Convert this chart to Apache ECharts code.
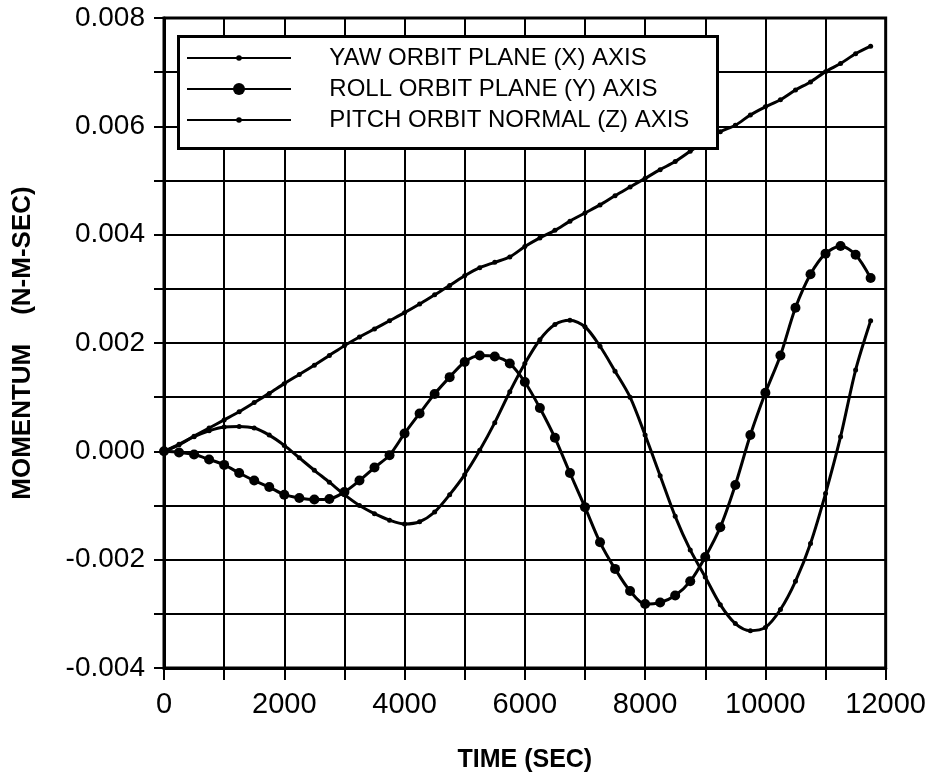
<!DOCTYPE html>
<html>
<head>
<meta charset="utf-8">
<script src="https://cdn.jsdelivr.net/npm/echarts@6/dist/echarts.min.js"></script>
<style>
html,body{margin:0;padding:0;background:#fff;}
#chart{width:929px;height:778px;}
</style>
</head>
<body>
<div id="chart"></div>
<script>
// Time in seconds
const times = [0,250,500,750,1000,1250,1500,1750,2000,2250,2500,2750,3000,3250,3500,3750,4000,4250,4500,4750,5000,5250,5500,5750,6000,6250,6500,6750,7000,7250,7500,7750,8000,8250,8500,8750,9000,9250,9500,9750,10000,10250,10500,10750,11000,11250,11500,11750];

// YAW ORBIT PLANE (X) AXIS (N-M-SEC)
const yawValues = [0,0.00012,0.00027,0.00038,0.00045,0.00046,0.00043,0.0003,0.00011,-0.00012,-0.00035,-0.00057,-0.0008,-0.001,-0.00115,-0.00127,-0.00134,-0.0013,-0.00112,-0.0008,-0.00043,0.00002,0.00053,0.0011,0.00162,0.00206,0.00234,0.00242,0.0023,0.00194,0.00148,0.001,0.0003,-0.00045,-0.0012,-0.00182,-0.00232,-0.00283,-0.00318,-0.00331,-0.00325,-0.00292,-0.0024,-0.0017,-0.00078,0.00027,0.0015,0.00241];

// ROLL ORBIT PLANE (Y) AXIS
const rollValues = [0,-0.00002,-0.00006,-0.00015,-0.00025,-0.0004,-0.00054,-0.00066,-0.0008,-0.00086,-0.00089,-0.00088,-0.00075,-0.00054,-0.0003,-0.00007,0.00033,0.0007,0.00106,0.00137,0.00165,0.00177,0.00175,0.00162,0.00128,0.0008,0.00025,-0.0004,-0.00103,-0.00168,-0.00217,-0.00258,-0.00282,-0.00279,-0.00266,-0.0024,-0.00195,-0.0014,-0.00062,0.0003,0.00108,0.00177,0.00265,0.00327,0.00365,0.00379,0.00363,0.0032];

// PITCH ORBIT NORMAL (Z) AXIS
const pitchValues = [0,0.00013,0.00028,0.00043,0.00058,0.00073,0.0009,0.00107,0.00125,0.00142,0.00159,0.00177,0.00195,0.00211,0.00226,0.00241,0.00256,0.00272,0.00289,0.00306,0.00324,0.00339,0.00349,0.00359,0.00378,0.00394,0.00408,0.00425,0.0044,0.00455,0.00472,0.00488,0.00504,0.0052,0.00535,0.00554,0.00573,0.0059,0.00602,0.00621,0.00636,0.00649,0.00667,0.00682,0.00701,0.00716,0.00734,0.00748];

const seriesNames = ['YAW ORBIT PLANE (X) AXIS','ROLL ORBIT PLANE (Y) AXIS','PITCH ORBIT NORMAL (Z) AXIS'];
const xTickLabels = ['0','2000','4000','6000','8000','10000','12000'];
const yTickLabels = ['-0.004','-0.002','0.000','0.002','0.004','0.006','0.008'];
const xTitle = 'TIME (SEC)';
const yTitle = 'MOMENTUM    (N-M-SEC)';

const FONT = '"Liberation Sans", Arial, Helvetica, sans-serif';

function pairs(vals){ return times.map((t,i)=>[t, vals[i]]); }

const chart = echarts.init(document.getElementById('chart'), null, {renderer:'canvas'});

function legendOf(name, top, h){
  return {
    show:true, orient:'vertical', left:186, top:top, padding:0, z:10,
    itemWidth:104, itemHeight:h, itemGap:0,
    data:[name],
    formatter: n => '     ' + n,
    textStyle:{fontFamily:FONT, fontSize:24, color:'#000', lineHeight:24},
    inactiveColor:'#000'
  };
}

const option = {
  backgroundColor:'#fff',
  animation:false,
  grid:{left:164, right:42, top:18, bottom:107, show:true, borderColor:'#000', borderWidth:3, backgroundColor:'transparent'},
  graphic:[{
    type:'rect', left:177, top:35, z:9,
    shape:{width:539, height:112},
    style:{fill:'#fff', stroke:'#000', lineWidth:3}
  }],
  legend:[
    legendOf(seriesNames[0], 46, 7),
    legendOf(seriesNames[1], 77, 15),
    legendOf(seriesNames[2], 108, 7)
  ],
  xAxis:{
    type:'value', min:0, max:12000, interval:1000,
    name:xTitle, nameLocation:'middle', nameGap:80,
    nameTextStyle:{fontFamily:FONT, fontSize:25, fontWeight:'bold', color:'#000'},
    axisLine:{show:true, onZero:false, lineStyle:{color:'#000', width:3}},
    axisTick:{show:true, length:12, lineStyle:{color:'#000', width:2}},
    axisLabel:{
      margin:22, fontFamily:FONT, fontSize:29, color:'#000',
      formatter: v => { const s = String(Math.round(v)); return xTickLabels.indexOf(s) >= 0 ? s : ''; }
    },
    splitLine:{show:true, lineStyle:{color:'#000', width:2}}
  },
  yAxis:{
    type:'value', min:-0.004, max:0.008, interval:0.001,
    name:yTitle, nameLocation:'middle', nameGap:128, nameRotate:90,
    nameTextStyle:{fontFamily:FONT, fontSize:26, fontWeight:'bold', color:'#000'},
    axisLine:{show:true, onZero:false, lineStyle:{color:'#000', width:3}},
    axisTick:{show:true, length:10, lineStyle:{color:'#000', width:2}},
    axisLabel:{
      margin:19, fontFamily:FONT, fontSize:28, color:'#000',
      formatter: v => { const k = Math.round(v*1000); const s = (k<0?'-':'') + (Math.abs(k)/1000).toFixed(3); return yTickLabels.indexOf(s) >= 0 ? s : ''; }
    },
    splitLine:{show:true, lineStyle:{color:'#000', width:2}}
  },
  series:[
    {name:seriesNames[0], type:'line', data:pairs(yawValues), smooth:0.3, showAllSymbol:true,
     symbol:'circle', symbolSize:5, lineStyle:{color:'#000', width:3}, itemStyle:{color:'#000'}, z:3},
    {name:seriesNames[1], type:'line', data:pairs(rollValues), smooth:0.3, showAllSymbol:true,
     symbol:'circle', symbolSize:10, lineStyle:{color:'#000', width:3}, itemStyle:{color:'#000'}, z:3},
    {name:seriesNames[2], type:'line', data:pairs(pitchValues), smooth:0.3, showAllSymbol:true,
     symbol:'circle', symbolSize:5, lineStyle:{color:'#000', width:3}, itemStyle:{color:'#000'}, z:3}
  ]
};
chart.setOption(option);
</script>
</body>
</html>
